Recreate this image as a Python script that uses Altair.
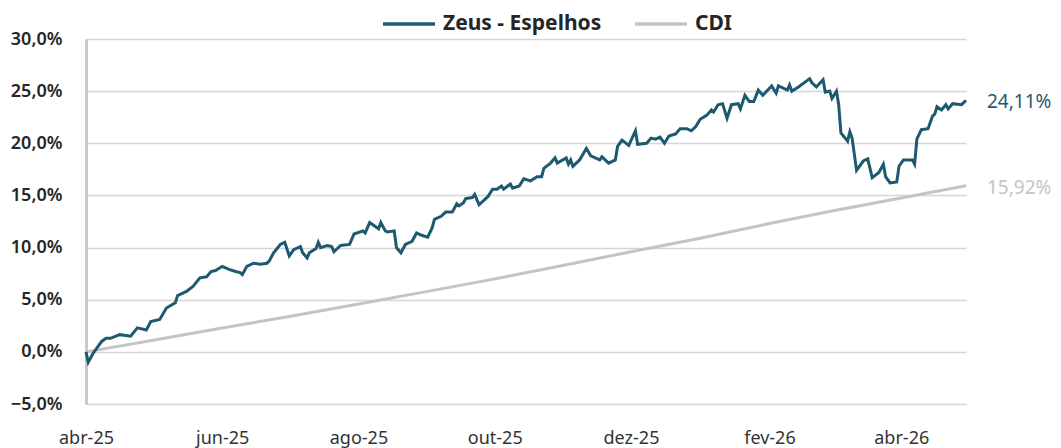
import altair as alt
import pandas as pd

# ---- data ----
zeus_dates = [
    "2025-04-01", "2025-04-02", "2025-04-04", "2025-04-06", "2025-04-08", "2025-04-10", "2025-04-12",
    "2025-04-16", "2025-04-21", "2025-04-24", "2025-04-28", "2025-04-30", "2025-05-04", "2025-05-07",
    "2025-05-11", "2025-05-12", "2025-05-16", "2025-05-19", "2025-05-22", "2025-05-25", "2025-05-27",
    "2025-05-29", "2025-06-01", "2025-06-04", "2025-06-07", "2025-06-09", "2025-06-10", "2025-06-12",
    "2025-06-15", "2025-06-18", "2025-06-21", "2025-06-22", "2025-06-24", "2025-06-27", "2025-06-29",
    "2025-07-01", "2025-07-03", "2025-07-06", "2025-07-07", "2025-07-09", "2025-07-10", "2025-07-13",
    "2025-07-14", "2025-07-15", "2025-07-18", "2025-07-20", "2025-07-21", "2025-07-24", "2025-07-28",
    "2025-07-30", "2025-08-03", "2025-08-04", "2025-08-06", "2025-08-10", "2025-08-11", "2025-08-13",
    "2025-08-14", "2025-08-17", "2025-08-18", "2025-08-20", "2025-08-22", "2025-08-25", "2025-08-27",
    "2025-08-29", "2025-09-01", "2025-09-03", "2025-09-04", "2025-09-07", "2025-09-09", "2025-09-12",
    "2025-09-14", "2025-09-15", "2025-09-17", "2025-09-18", "2025-09-21", "2025-09-22", "2025-09-24",
    "2025-09-28", "2025-09-30", "2025-10-02", "2025-10-04", "2025-10-05", "2025-10-08", "2025-10-09",
    "2025-10-12", "2025-10-14", "2025-10-17", "2025-10-20", "2025-10-22", "2025-10-23", "2025-10-26",
    "2025-10-28", "2025-10-29", "2025-11-02", "2025-11-03", "2025-11-04", "2025-11-05", "2025-11-08",
    "2025-11-11", "2025-11-13", "2025-11-17", "2025-11-18", "2025-11-21", "2025-11-24", "2025-11-25",
    "2025-11-27", "2025-11-30", "2025-12-03", "2025-12-04", "2025-12-08", "2025-12-10", "2025-12-12",
    "2025-12-14", "2025-12-16", "2025-12-18", "2025-12-21", "2025-12-23", "2025-12-26", "2025-12-28",
    "2025-12-30", "2026-01-01", "2026-01-04", "2026-01-06", "2026-01-07", "2026-01-09", "2026-01-11",
    "2026-01-13", "2026-01-15", "2026-01-18", "2026-01-19", "2026-01-21", "2026-01-23", "2026-01-25",
    "2026-01-27", "2026-01-29", "2026-02-02", "2026-02-04", "2026-02-05", "2026-02-09", "2026-02-10",
    "2026-02-11", "2026-02-14", "2026-02-19", "2026-02-20", "2026-02-22", "2026-02-25", "2026-02-26",
    "2026-02-28", "2026-03-01", "2026-03-03", "2026-03-04", "2026-03-05", "2026-03-08", "2026-03-09",
    "2026-03-10", "2026-03-12", "2026-03-15", "2026-03-17", "2026-03-19", "2026-03-22", "2026-03-24",
    "2026-03-25", "2026-03-27", "2026-03-30", "2026-03-31", "2026-04-02", "2026-04-06", "2026-04-07",
    "2026-04-08", "2026-04-10", "2026-04-13", "2026-04-15", "2026-04-16", "2026-04-17", "2026-04-19",
    "2026-04-21", "2026-04-22", "2026-04-24", "2026-04-28", "2026-04-30",
]
zeus_values = [
    0.0, -1.0, -0.2, 0.4, 1.0, 1.3, 1.3,
    1.65, 1.5, 2.3, 2.1, 2.9, 3.1, 4.2,
    4.7, 5.4, 5.8, 6.3, 7.1, 7.2, 7.7,
    7.8, 8.2, 7.9, 7.7, 7.6, 7.4, 8.2,
    8.5, 8.4, 8.5, 8.7, 9.5, 10.3, 10.5,
    9.2, 9.8, 10.1, 9.5, 9.0, 9.5, 9.9,
    10.5, 10.0, 10.2, 10.1, 9.6, 10.2, 10.3,
    11.3, 11.6, 11.4, 12.4, 11.8, 12.4, 11.6,
    11.5, 11.6, 10.0, 9.5, 10.3, 10.6, 11.4,
    11.2, 11.0, 11.9, 12.7, 13.0, 13.4, 13.4,
    14.2, 14.0, 14.3, 14.7, 14.8, 15.1, 14.1,
    14.9, 15.6, 15.6, 15.9, 15.6, 16.1, 15.7,
    15.9, 16.6, 16.4, 16.8, 16.8, 17.6, 18.1,
    18.6, 18.1, 18.6, 18.0, 18.4, 17.8, 18.4,
    19.5, 18.8, 18.4, 18.7, 18.1, 18.4, 19.7,
    20.3, 19.8, 21.2, 19.9, 20.0, 20.5, 20.4,
    20.6, 20.0, 20.7, 20.9, 21.4, 21.4, 21.2,
    21.6, 22.3, 22.7, 23.2, 23.0, 23.7, 23.8,
    22.4, 23.7, 23.8, 23.3, 24.6, 24.0, 24.0,
    25.1, 24.6, 25.5, 24.8, 25.5, 25.1, 25.6,
    25.0, 25.4, 26.2, 25.8, 25.4, 26.1, 24.9,
    25.0, 24.3, 25.0, 23.7, 21.0, 20.2, 21.1,
    20.5, 17.4, 18.3, 18.5, 16.7, 17.2, 18.0,
    16.8, 16.2, 16.3, 17.8, 18.4, 18.4, 18.0,
    20.4, 21.3, 21.4, 22.6, 22.8, 23.5, 23.2,
    23.7, 23.3, 23.8, 23.7, 24.11,
]

cdi_dates = [
    "2025-04-01", "2025-05-01", "2025-06-01", "2025-07-01", "2025-08-01", "2025-09-01", "2025-10-01",
    "2025-11-01", "2025-12-01", "2026-01-01", "2026-02-01", "2026-03-01", "2026-04-01", "2026-04-30",
]
cdi_values = [0.0, 1.12, 2.28, 3.4, 4.58, 5.8, 7.0, 8.3, 9.6, 10.9, 12.3, 13.5, 14.75, 15.92]

series_names = ["Zeus - Espelhos", "CDI"]
series_colors = ["#1d5a6f", "#c4c4c4"]
y_ticks = [-5, 0, 5, 10, 15, 20, 25, 30]
x_ticks = ["2025-04-01", "2025-06-01", "2025-08-01", "2025-10-01", "2025-12-01", "2026-02-01", "2026-04-01"]

# ---- tables ----
zeus = pd.DataFrame({"date": pd.to_datetime(zeus_dates), "value": [v / 100 for v in zeus_values],
                     "series": series_names[0]})
cdi = pd.DataFrame({"date": pd.to_datetime(cdi_dates), "value": [v / 100 for v in cdi_values],
                    "series": series_names[1]})
last = pd.DataFrame({
    "date": [zeus["date"].iloc[-1], cdi["date"].iloc[-1]],
    "value": [zeus["value"].iloc[-1], cdi["value"].iloc[-1]],
    "series": series_names,
})
last["label"] = [f"{v * 100:.2f}".replace(".", ",") + "%" for v in last["value"]]

FONT = "Noto Sans"

def dt(s):
    t = pd.Timestamp(s)
    return alt.DateTime(year=t.year, month=t.month, date=t.day)

x_enc = alt.X(
    "date:T",
    scale=alt.Scale(domain=[dt("2025-04-01"), dt("2026-04-30")]),
    axis=alt.Axis(values=[dt(s) for s in x_ticks], format="%b-%y", grid=False, domain=False,
                  ticks=False, labelFontSize=18, labelColor="#333333", labelPadding=25,
                  labelFont=FONT, title=None, labelOverlap=False, labelFlush=False),
)
y_enc = alt.Y(
    "value:Q",
    scale=alt.Scale(domain=[-0.05, 0.30], nice=False, zero=False),
    axis=alt.Axis(values=[v / 100 for v in y_ticks], format=".1%", grid=True, gridColor="#d6d6d6",
                  gridWidth=1.6, domain=True, domainColor="#c9c9c9", domainWidth=3, ticks=False,
                  labelFontSize=18, labelColor="#262626", labelFontWeight=600, labelPadding=24,
                  labelFont=FONT, title=None),
)
color_scale = alt.Scale(domain=series_names, range=series_colors)
legend = alt.Legend(orient="none", legendX=295, legendY=-43, direction="horizontal", title=None,
                    symbolType="stroke", symbolSize=2700, symbolStrokeWidth=3.5,
                    labelFontSize=21, labelFontWeight="bold", labelColor="#262626", labelFont=FONT,
                    labelOffset=6, columnPadding=26)

cdi_line = alt.Chart(cdi).mark_line(strokeWidth=3).encode(
    x=x_enc, y=y_enc, color=alt.Color("series:N", scale=color_scale, legend=legend, sort=series_names))
zeus_line = alt.Chart(zeus).mark_line(strokeWidth=3).encode(
    x=x_enc, y=y_enc, color=alt.Color("series:N", scale=color_scale, legend=legend, sort=series_names))
labels = alt.Chart(last).mark_text(align="left", baseline="middle", dx=21, dy=2, fontSize=19,
                                   font=FONT).encode(
    x=x_enc, y=y_enc, text="label:N",
    color=alt.Color("series:N", scale=color_scale, legend=None))

chart = alt.layer(cdi_line, zeus_line, labels).properties(
    width=880, height=365,
    autosize=alt.AutoSizeParams(type="none"),
    padding={"left": 78, "top": 31, "right": 87, "bottom": 44},
).configure(
    locale={
        "number": {"decimal": ",", "thousands": ".", "grouping": [3], "currency": ["R$", ""]},
        "time": {
            "dateTime": "%A, %e de %B de %Y. %X",
            "date": "%d/%m/%Y",
            "time": "%H:%M:%S",
            "periods": ["AM", "PM"],
            "days": ["Domingo", "Segunda", "Terça", "Quarta", "Quinta", "Sexta", "Sábado"],
            "shortDays": ["Dom", "Seg", "Ter", "Qua", "Qui", "Sex", "Sáb"],
            "months": ["Janeiro", "Fevereiro", "Março", "Abril", "Maio", "Junho", "Julho",
                       "Agosto", "Setembro", "Outubro", "Novembro", "Dezembro"],
            "shortMonths": ["jan", "fev", "mar", "abr", "mai", "jun", "jul", "ago", "set",
                            "out", "nov", "dez"],
        },
    }
).configure_view(stroke=None)

chart.save("out.html", embed_options={"renderer": "svg", "actions": False})
